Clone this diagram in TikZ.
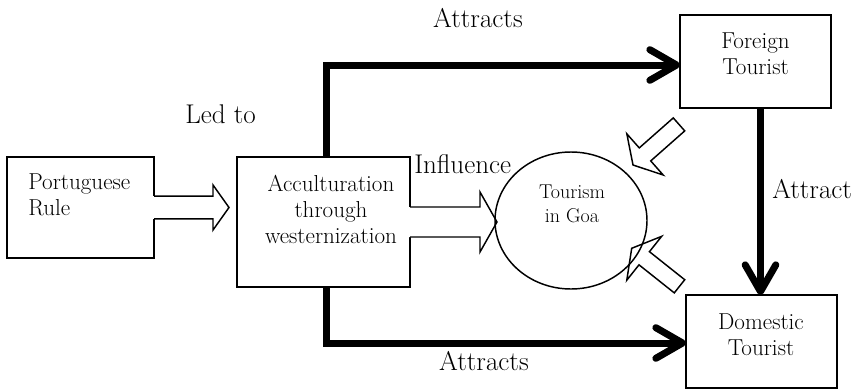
\documentclass[tikz,border=0pt]{standalone}
\usepackage{fontspec}
\usetikzlibrary{calc,shapes.geometric,arrows.meta}
\tikzset{
  boxnode/.style={draw, line width=1.1pt, inner sep=0pt, outer sep=0pt},
  hollowline/.style={line width=1.1pt, line join=miter},
  thickarr/.style={line width=5.25pt, line join=miter, -{Straight Barb[length=20pt,width=23pt,round]}},
  boxtext/.style={font=\fontsize{17.3}{19.5}\selectfont, inner sep=0pt, align=center},
  smalltext/.style={font=\fontsize{15}{18}\selectfont, inner sep=0pt, align=center},
  lbl/.style={font=\fontsize{20.3}{24}\selectfont, inner sep=0pt}
}
\newcommand\hollowarrow[6][]{%
  \coordinate (hA) at (#2);
  \coordinate (hB) at (#3);
  \coordinate (hN) at ($(hB)!#6!(hA)$);
  \coordinate (hZ) at ($(hA)!1pt!180:(hB)$);
  \fill[white] ($(hZ)!#4!90:(hB)$) -- ($(hN)!#4!90:(hB)$) -- ($(hN)!#5!90:(hB)$) -- (hB)
     -- ($(hN)!#5!-90:(hB)$) -- ($(hN)!#4!-90:(hB)$) -- ($(hZ)!#4!-90:(hB)$) -- cycle;
  \draw[hollowline] ($(hA)!#4!90:(hB)$) -- ($(hN)!#4!90:(hB)$) -- ($(hN)!#5!90:(hB)$) -- (hB)
     -- ($(hN)!#5!-90:(hB)$) -- ($(hN)!#4!-90:(hB)$) -- ($(hA)!#4!-90:(hB)$) #1;
}
\begin{document}
\begin{tikzpicture}[x=0.75pt,y=-0.75pt]
\useasboundingbox (0,0) rectangle (861,389);
% boxes
\node[boxnode, minimum width=110.25pt, minimum height=75.75pt] (pr) at (80.5,207.5) {};
\node[boxnode, minimum width=129.75pt, minimum height=97.5pt] (acc) at (323.5,222) {};
\node[boxnode, minimum width=113.25pt, minimum height=69.75pt] (ft) at (755.5,61.5) {};
\node[boxnode, minimum width=113.25pt, minimum height=69.75pt] (dt) at (761.5,341.5) {};
% thick connectors
\coordinate (tb) at (326,65);
\coordinate (bb) at (326,343);
\coordinate (vx) at (760.5,0);
\draw[thickarr] (tb |- acc.north) -- (tb) -- (tb -| ft.west);
\draw[thickarr] (bb |- acc.south) -- (bb) -- (bb -| dt.west);
\draw[thickarr] (vx |- ft.south) -- (vx |- dt.north);
% circle position (drawn later)
\path (571,220.5) coordinate (cc);
\node[ellipse, inner sep=0pt, outer sep=0pt, minimum width=114pt, minimum height=102.75pt] (circ) at (cc) {};
% hollow arrows
\hollowarrow{pr.east}{$(acc.west |- pr.east)+(-8,0)$}{8.6pt}{16.9pt}{12pt}
\hollowarrow{acc.east}{$(circ.west |- acc.east)+(2,0)$}{11.25pt}{22.5pt}{12.75pt}
\coordinate (u1) at (679,124.4);
\coordinate (u2) at (633,165);
\hollowarrow[-- cycle]{u1}{u2}{6.5pt}{20.6pt}{12pt}
\coordinate (l1) at (679.5,286.3);
\coordinate (l2) at (631.7,248.3);
\hollowarrow[-- cycle]{l1}{l2}{6.3pt}{21pt}{12pt}
% circle outline
\draw[line width=1.1pt] (circ.center) ellipse [x radius=76, y radius=68.5];
% texts
\node[boxtext, align=left, anchor=north west] (prT) at (28,173) {Portuguese\\Rule};
\node[boxtext, anchor=north] (accT) at (331,175) {Acculturation\\through\\westernization};
\node[boxtext, anchor=north] (ftT) at (755.5,33) {Foreign\\Tourist};
\node[boxtext, anchor=north] (dtT) at (761,313) {Domestic\\Tourist};
\node[smalltext, anchor=north] (ccT) at (572,185) {Tourism\\in Goa};
% labels
\node[lbl, anchor=base] (l_att1) at (478,27) {Attracts};
\node[lbl, anchor=base] (l_att2) at (484,370) {Attracts};
\node[lbl, anchor=base west] (l_att3) at (772,198) {Attract};
\node[lbl, anchor=base west] (l_led) at (185,123) {Led to};
\node[lbl, anchor=base west] (l_inf) at (414,173) {Influence};
\end{tikzpicture}
\end{document}
